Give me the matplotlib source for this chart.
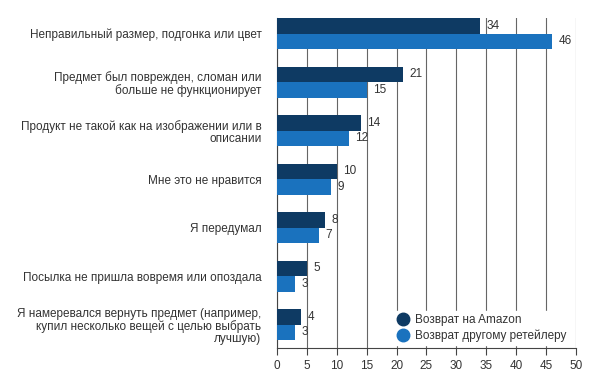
import numpy as np
import matplotlib.pyplot as plt

plt.rcParams['font.family'] = ['Liberation Sans', 'DejaVu Sans']

categories = [
    "Неправильный размер, подгонка или цвет",
    "Предмет был поврежден, сломан или\nбольше не функционирует",
    "Продукт не такой как на изображении или в\nописании",
    "Мне это не нравится",
    "Я передумал",
    "Посылка не пришла вовремя или опоздала",
    "Я намеревался вернуть предмет (например,\nкупил несколько вещей с целью выбрать\nлучшую)",
]
amazon = [34, 21, 14, 10, 8, 5, 4]
other = [46, 15, 12, 9, 7, 3, 3]
series_names = ["Возврат на Amazon", "Возврат другому ретейлеру"]
xticks = list(range(0, 51, 5))

c_amazon = '#0e3a63'
c_other = '#1a72be'
txt = '#333333'

fig = plt.figure(figsize=(5.94, 3.84), dpi=100)
ax = fig.add_axes([0.466, 0.094, 0.504, 0.859])

y = np.arange(len(categories))
h = 0.32
ax.barh(y - h / 2, amazon, height=h, color=c_amazon, label=series_names[0], zorder=3)
ax.barh(y + h / 2, other, height=h, color=c_other, label=series_names[1], zorder=3)

for yi, v in zip(y, amazon):
    ax.text(v + 1.1, yi - h / 2, str(v), va='center', ha='left', fontsize=8.5, color=txt)
for yi, v in zip(y, other):
    ax.text(v + 1.1, yi + h / 2, str(v), va='center', ha='left', fontsize=8.5, color=txt)

ax.set_ylim(6.48, -0.32)
ax.set_xlim(0, 50)
ax.set_xticks(xticks)
ax.set_xticklabels([str(t) for t in xticks], fontsize=8.5, color=txt)
ax.set_yticks(y)
ax.set_yticklabels(categories, fontsize=8.5, color=txt, linespacing=1.0)
ax.tick_params(axis='y', length=0, pad=11)
ax.tick_params(axis='x', length=5, color='#444444', pad=4)

ax.grid(axis='x', color='#666666', linewidth=0.8, zorder=0)
for s in ['top', 'right']:
    ax.spines[s].set_visible(False)
ax.spines['left'].set_color('#444444')
ax.spines['bottom'].set_color('#444444')

handles = [plt.Line2D([], [], marker='o', linestyle='', markersize=9, color=c) for c in (c_amazon, c_other)]
leg = ax.legend(handles, series_names, loc='lower right', bbox_to_anchor=(1.0, -0.01),
                frameon=True, fontsize=8.5, handletextpad=0.45, labelspacing=0.25,
                borderpad=0.3, handlelength=1.2)
leg.get_frame().set_facecolor('white')
leg.get_frame().set_edgecolor('white')
leg.get_frame().set_alpha(1)
for t in leg.get_texts():
    t.set_color(txt)

plt.savefig('out.png', dpi=100)
